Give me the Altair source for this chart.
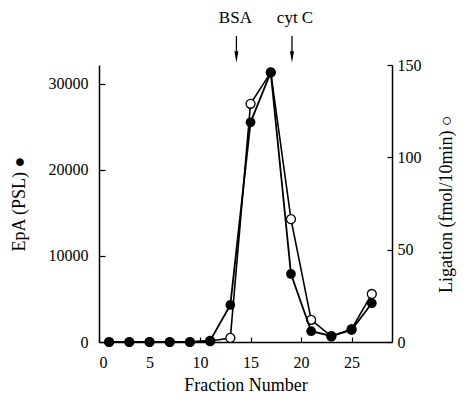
import altair as alt
import pandas as pd

# ---- data ----
fraction = [1, 3, 5, 7, 9, 11, 13, 15, 17, 19, 21, 23, 25, 27]
epa_psl = [0, 0, 0, 0, 0, 150, 4300, 25500, 31300, 7900, 1250, 700, 1400, 4500]
ligation = [0, 0, 0, 0, 0, 0.5, 2.2, 129, 146, 66.5, 12, 3, 7, 26]
marker_names = ["BSA", "cyt C"]
marker_fraction = [13.6, 19.1]
marker_label_fraction = [13.5, 19.4]

x_ticks = [0, 5, 10, 15, 20, 25]
left_ticks = [0, 10000, 20000, 30000]
right_ticks = [0, 50, 100, 150]

df = pd.DataFrame({"fraction": fraction, "epa": epa_psl, "lig": ligation})
mk = pd.DataFrame({"name": marker_names, "pos": marker_fraction, "lpos": marker_label_fraction})

FONT = "Liberation Serif"
W, H = 293, 277

xenc = alt.X("fraction:Q",
             scale=alt.Scale(domain=[0, 29], nice=False, zero=False),
             axis=alt.Axis(values=x_ticks, title="Fraction Number", format="d",
                           tickSize=alt.ExprRef(expr="-5"), labelPadding=17,
                           titlePadding=6, grid=False))

lig_y = alt.Y("lig:Q", scale=alt.Scale(domain=[0, 150], nice=False),
              axis=alt.Axis(orient="right", values=right_ticks, format="d",
                            title="Ligation (fmol/10min)  ○", titleAngle=270,
                            tickSize=alt.ExprRef(expr="-5"), labelPadding=10,
                            titlePadding=34, grid=False))
epa_y = alt.Y("epa:Q", scale=alt.Scale(domain=[0, 32150], nice=False),
              axis=alt.Axis(orient="left", values=left_ticks, format="d",
                            title="EpA (PSL)  ●", titleAngle=270,
                            tickSize=alt.ExprRef(expr="-6"), labelPadding=17,
                            titlePadding=20, grid=False))

base = alt.Chart(df)
lig_layer = alt.layer(
    base.mark_line(color="black", strokeWidth=1.6).encode(x=xenc, y=lig_y),
    base.mark_point(shape="circle", filled=True, fill="white", stroke="black",
                    strokeWidth=1.3, size=80, opacity=1).encode(x=xenc, y=lig_y),
)
epa_layer = alt.layer(
    base.mark_line(color="black", strokeWidth=1.8).encode(x=xenc, y=epa_y),
    base.mark_point(shape="circle", filled=True, color="black", size=95,
                    opacity=1).encode(x=xenc, y=epa_y),
)

mbase = alt.Chart(mk)
arrows = alt.layer(
    mbase.mark_rule(color="black", strokeWidth=1.3).encode(
        x=alt.X("pos:Q"), y=alt.value(-29), y2=alt.value(-8)),
    mbase.mark_point(shape="M -0.35 -1 L 0.35 -1 L 0 1 Z", filled=True,
                     color="black", size=130, opacity=1).encode(
        x=alt.X("pos:Q"), y=alt.value(-8)),
    mbase.mark_text(font=FONT, fontSize=17, baseline="middle", align="center",
                    color="black").encode(
        x=alt.X("lpos:Q"), y=alt.value(-47), text="name:N"),
)

chart = alt.layer(lig_layer, epa_layer, arrows).resolve_scale(
    y="independent"
).properties(
    width=W, height=H,
    autosize=alt.AutoSizeParams(type="none"),
    padding={"left": 91, "top": 57, "right": 65, "bottom": 51},
).configure_view(stroke=None).configure_axis(
    labelFont=FONT, titleFont=FONT, labelFontSize=16, titleFontSize=18,
    titleFontWeight="normal", labelColor="black", titleColor="black",
    domainColor="black", tickColor="black", domainWidth=1.5, tickWidth=1.2,
)

chart.save("out.html", embed_options={"renderer": "svg", "actions": False})
